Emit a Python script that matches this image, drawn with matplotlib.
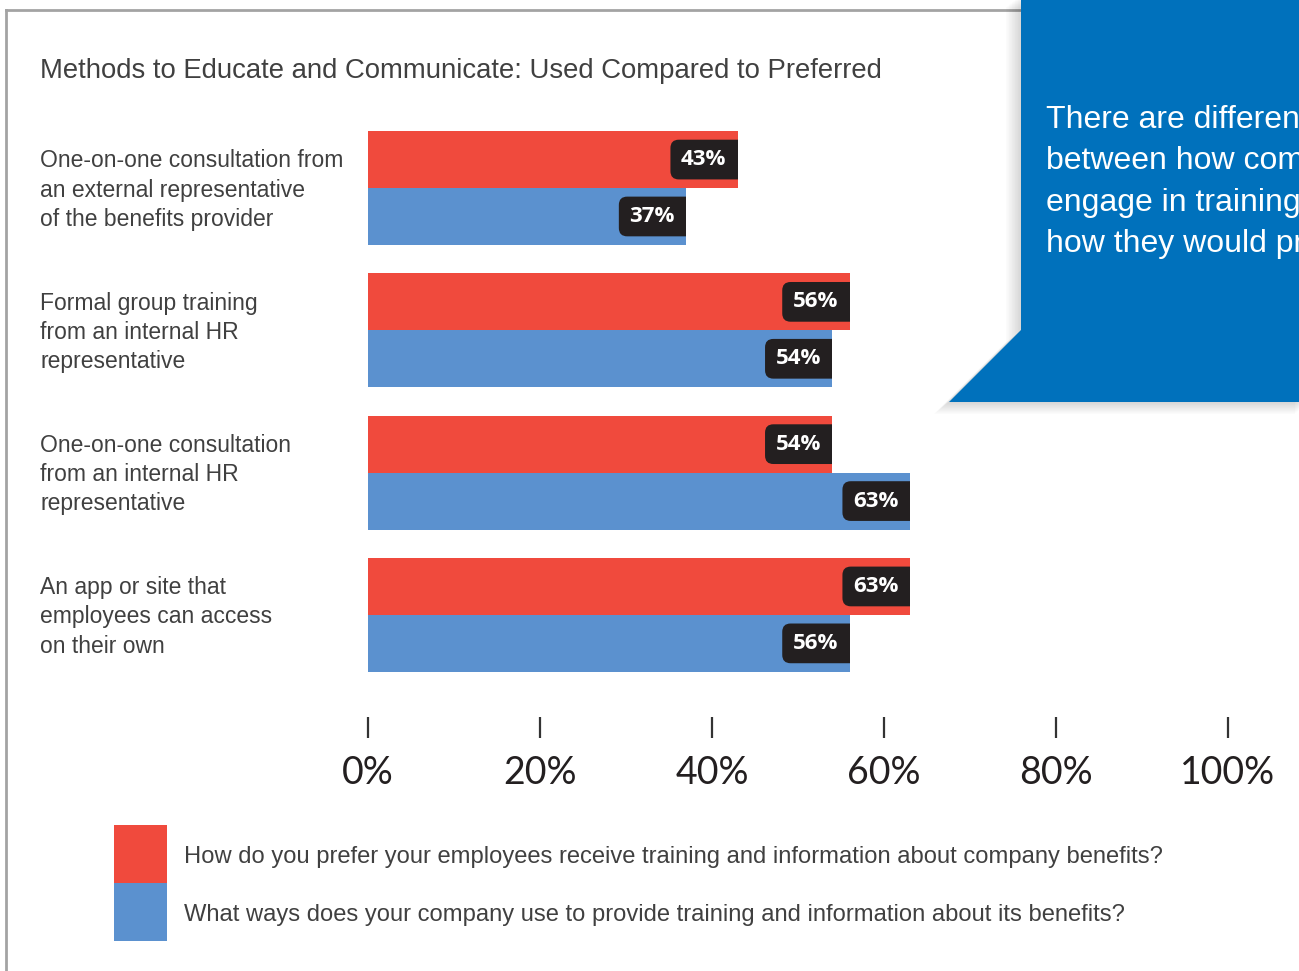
import matplotlib
matplotlib.use("Agg")
import matplotlib.pyplot as plt
import matplotlib.transforms as mtransforms
from matplotlib.patches import FancyBboxPatch, Rectangle, Polygon
from matplotlib.lines import Line2D

# ---- data -------------------------------------------------------------
categories = [
    "One-on-one consultation from\nan external representative\nof the benefits provider",
    "Formal group training\nfrom an internal HR\nrepresentative",
    "One-on-one consultation\nfrom an internal HR\nrepresentative",
    "An app or site that\nemployees can access\non their own",
]
preferred = [43, 56, 54, 63]   # red
used = [37, 54, 63, 56]        # blue
tick_values = [0, 20, 40, 60, 80, 100]
tick_labels = ["0%", "20%", "40%", "60%", "80%", "100%"]
legend_labels = [
    "How do you prefer your employees receive training and information about company benefits?",
    "What ways does your company use to provide training and information about its benefits?",
]
title = "Methods to Educate and Communicate: Used Compared to Preferred"
callout = "There are differences\nbetween how companies\nengage in training and\nhow they would prefer"

# ---- style ------------------------------------------------------------
RED = "#F04A3D"
BLUE = "#5B91CF"
DARK = "#231F20"
CALLOUT = "#0071BC"
TEXT = "#404040"
SANS = "Liberation Sans"

W, H = 1299, 971
DPI = 100
fig = plt.figure(figsize=(W / DPI, H / DPI), dpi=DPI)


def fx(px):
    return px / W


def fy(py):
    return 1 - py / H


# frame around the panel
fig.add_artist(Line2D([fx(6), fx(6)], [fy(10), fy(H + 5)], color="#A3A3A3", lw=2.0, zorder=0.5))
fig.add_artist(Line2D([fx(6), fx(1020)], [fy(10), fy(10)], color="#A3A3A3", lw=2.0, zorder=0.5))

# title
fig.text(fx(40), fy(71), title, fontsize=19.8, color=TEXT, family=SANS,
         ha="left", va="center")

# ---- bar panel ---------------------------------------------------------
ax = fig.add_axes([fx(368), fy(738), fx(1228) - fx(368), fy(120) - fy(738)])
ax.set_xlim(0, 100)
bar_h = 0.4
group_step = 1.0
ax.set_ylim(3.865, -0.478)

centers = [i * group_step for i in range(len(categories))]
red_bars = ax.barh([c - bar_h / 2 for c in centers], preferred, height=bar_h,
                   color=RED, linewidth=0)
blue_bars = ax.barh([c + bar_h / 2 for c in centers], used, height=bar_h,
                    color=BLUE, linewidth=0)

for spine in ax.spines.values():
    spine.set_visible(False)
ax.set_yticks([])
ax.set_xticks(tick_values)
ax.set_xticklabels(tick_labels, fontsize=27, color="#231F20", family="Lato")
ax.tick_params(axis="x", direction="in", length=15, width=1.6, color="#333333", pad=12)

# value tags: dark rounded boxes tucked into the end of each bar
pts = DPI / 72.0
for bars, vals in ((red_bars, preferred), (blue_bars, used)):
    for bar, v in zip(bars, vals):
        yc = bar.get_y() + bar.get_height() / 2
        anchor = mtransforms.ScaledTranslation(v, yc, ax.transData)
        tr = mtransforms.Affine2D().scale(pts) + anchor
        box = FancyBboxPatch((-48.5, -14.3), 62, 28.6,
                             boxstyle="round,pad=0,rounding_size=6",
                             fc=DARK, ec="none", transform=tr)
        ax.add_artist(box)
        box.set_clip_path(bar)
        ax.annotate(f"{v}%", xy=(v, yc), xytext=(-24.5, 0), textcoords="offset points",
                    ha="center", va="center", fontsize=16, fontweight="bold",
                    color="white", family="Open Sans")

# category labels
lab_tr = mtransforms.blended_transform_factory(fig.transFigure, ax.transData)
label_shift = mtransforms.ScaledTranslation(0, -2 / DPI, fig.dpi_scale_trans)
for c, lab in zip(centers, categories):
    ax.text(fx(40), c, lab, transform=lab_tr + label_shift, ha="left", va="center",
            fontsize=16.5, color=TEXT, family=SANS, linespacing=1.35, clip_on=False)

# ---- legend -----------------------------------------------------------
for i, (col, lab) in enumerate(zip((RED, BLUE), legend_labels)):
    top = 825 + i * 58
    fig.add_artist(Rectangle((fx(114), fy(top + 58)), fx(167) - fx(114), fy(top) - fy(top + 58),
                             transform=fig.transFigure, fc=col, ec="none"))
    fig.text(fx(184), fy(top + 32), lab, fontsize=17.1, color=TEXT, family=SANS,
             ha="left", va="center")

# ---- callout ----------------------------------------------------------
shape = [(1021, -5), (1310, -5), (1310, 402), (949, 402), (1021, 330)]
for k in range(10, 0, -1):
    sh = [(x - k * 1.5, y + k * 1.2) for x, y in shape]
    fig.add_artist(Polygon([(fx(x), fy(y)) for x, y in sh], closed=True,
                           transform=fig.transFigure, fc="black", ec="none",
                           alpha=0.016))
fig.add_artist(Polygon([(fx(x), fy(y)) for x, y in shape], closed=True,
                       transform=fig.transFigure, fc=CALLOUT, ec="none"))
fig.text(fx(1046), fy(182), callout, fontsize=23, color="white", family=SANS,
         ha="left", va="center", linespacing=1.5)

fig.savefig("out.png", dpi=DPI)
